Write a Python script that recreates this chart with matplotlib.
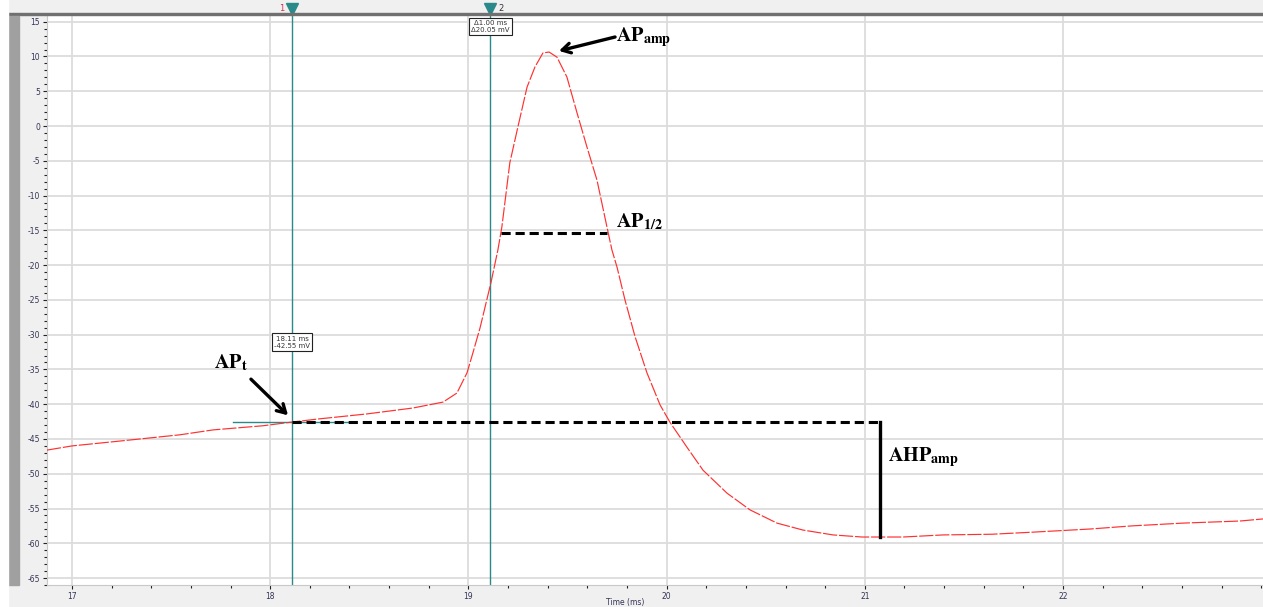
import matplotlib
matplotlib.use("Agg")
import matplotlib.pyplot as plt
from matplotlib.patches import Rectangle
from matplotlib.ticker import MultipleLocator

# membrane potential trace (ms, mV)
time_ms = [16.874, 17.000, 17.242, 17.545, 17.711, 17.964, 18.115, 18.251, 18.488,
           18.720, 18.872, 18.942, 18.993, 19.023, 19.059, 19.114, 19.149, 19.169,
           19.209, 19.250, 19.296, 19.336, 19.376, 19.407, 19.447, 19.497, 19.548,
           19.598, 19.649, 19.699, 19.724, 19.750, 19.790, 19.841, 19.901, 19.967,
           20.017, 20.103, 20.184, 20.305, 20.421, 20.557, 20.688, 20.840, 20.986,
           21.193, 21.395, 21.642, 21.849, 22.136, 22.348, 22.605, 22.893, 23.009]
voltage_mv = [-46.6, -46.0, -45.3, -44.4, -43.7, -43.1, -42.55, -42.1, -41.4,
              -40.55, -39.7, -38.4, -35.5, -32.6, -29.0, -22.5, -17.8, -14.5,
              -5.3, -0.1, 5.6, 8.5, 10.5, 10.64, 9.9, 7.05, 1.9,
              -3.0, -7.8, -14.5, -17.8, -20.3, -25.0, -30.3, -35.5, -40.1,
              -42.6, -46.2, -49.5, -52.8, -55.2, -57.1, -58.1, -58.8, -59.1,
              -59.1, -58.8, -58.7, -58.4, -57.95, -57.5, -57.1, -56.8, -56.5]

cursor1_t, cursor1_v = 18.11, -42.55
cursor2_t = 19.11
delta_t, delta_v = 1.00, 20.05
half_v, half_t0, half_t1 = -15.43, 19.165, 19.70
ahp_t, ahp_v = 21.077, -59.1

xticks = [17, 18, 19, 20, 21, 22]
yticks = list(range(15, -70, -5))

teal = '#2a8a8a'
red = '#ff3030'

plt.rcParams['mathtext.fontset'] = 'stix'
plt.rcParams['font.family'] = ['DejaVu Sans']
plt.rcParams['axes.unicode_minus'] = False

fig = plt.figure(figsize=(12.63, 6.07), dpi=100, facecolor='#f0f0f0')
W, H = 1263, 607
ax = fig.add_axes([47 / W, 1 - 585 / H, 1 - 47 / W, 569 / H])
ax.set_facecolor('white')
ax.set_xlim(16.874, 23.009)
ax.set_ylim(-66.0, 15.82)

# grid
ax.set_xticks(xticks)
ax.set_yticks(yticks)
ax.xaxis.set_minor_locator(MultipleLocator(0.2))
ax.yaxis.set_minor_locator(MultipleLocator(1))
ax.grid(True, which='major', color='#dcdcdc', linewidth=1.3)
ax.set_axisbelow(True)
ax.tick_params(which='major', direction='out', length=3, width=0.8, colors='#222222',
               labelsize=5.5, labelcolor='#333355', pad=2)
ax.tick_params(which='minor', direction='out', length=2, width=0.8, colors='#222222')
for s in ax.spines.values():
    s.set_color('#c8c8c8')
    s.set_linewidth(0.8)
ax.spines['top'].set_visible(False)
ax.spines['right'].set_visible(False)

# cursors
ax.axvline(cursor1_t, color=teal, lw=1.0, zorder=2)
ax.axvline(cursor2_t, color=teal, lw=1.0, zorder=2)
ax.plot([cursor1_t - 0.3, cursor1_t + 0.3], [cursor1_v, cursor1_v], color=teal, lw=1.0, zorder=2)

# trace
ax.plot(time_ms, voltage_mv, color=red, lw=0.85, dashes=[12, 1.6], zorder=3)

# measurement lines
ax.plot([cursor1_t, ahp_t], [cursor1_v, cursor1_v], color='black', lw=2.2,
        dashes=[3, 1.6], zorder=4)
ax.plot([half_t0, half_t1], [half_v, half_v], color='black', lw=2.2, dashes=[3, 1.6], zorder=4)
ax.plot([ahp_t, ahp_t], [cursor1_v, ahp_v], color='black', lw=2.4, zorder=4)

# labels
lab = dict(fontsize=14.5, color='black', va='baseline', ha='left')
ax.text(17.716, -34.8, r'$\mathbf{AP}_{\mathbf{t}}$', **lab)
ax.text(19.745, 12.2, r'$\mathbf{AP}_{\mathbf{amp}}$', **lab)
ax.text(19.745, -14.5, r'$\mathbf{AP}_{\mathbf{1/2}}$', **lab)
ax.text(21.117, -48.2, r'$\mathbf{AHP}_{\mathbf{amp}}$', **lab)

arrow = dict(arrowstyle='->,head_length=0.6,head_width=0.35', color='black', lw=2.4,
             shrinkA=0, shrinkB=0)
ax.annotate('', xy=(18.09, -41.6), xytext=(17.903, -36.4), arrowprops=arrow)
ax.annotate('', xy=(19.457, 10.8), xytext=(19.74, 12.8), arrowprops=arrow)

# cursor readouts
box = dict(boxstyle='square,pad=0.3', fc='white', ec='#222222', lw=0.8)
ax.text(cursor1_t, -31.06, f'{cursor1_t:.2f} ms\n{cursor1_v:.2f} mV', fontsize=5,
        ha='center', va='center', color='#333333', bbox=box, zorder=6,
        linespacing=1.2)
ax.text(cursor2_t, 0.981, f'\u0394{delta_t:.2f} ms\n\u0394{delta_v:.2f} mV', fontsize=5,
        ha='center', va='center', color='#333333', bbox=box, zorder=6,
        transform=ax.get_xaxis_transform(), clip_on=False, linespacing=1.2)

# cursor handles on top bar
tr = ax.get_xaxis_transform()
for ct, name, col in [(cursor1_t, '1', '#d03050'), (cursor2_t, '2', '#333333')]:
    ax.plot([ct], [1.013], marker='v', markersize=8, color=teal, transform=tr, clip_on=False,
            zorder=7)
    ax.text(ct + (-0.04 if name == '1' else 0.04), 1.013, name, transform=tr, fontsize=6,
            color=col, ha='right' if name == '1' else 'left', va='center', clip_on=False)

# frame decoration
fig.patches.append(Rectangle((8 / W, 1 - 15 / H), 1 - 8 / W, 2 / H, transform=fig.transFigure,
                             color='#707070', zorder=5))
fig.patches.append(Rectangle((8 / W, 1 - 585 / H), 11 / W, 569 / H, transform=fig.transFigure,
                             color='#a0a0a0', zorder=5))
fig.patches.append(Rectangle((0, 0), 8 / W, 1, transform=fig.transFigure, color='white', zorder=5))
fig.text(11 / W, 1 - 297 / H, 'mV', rotation=90, fontsize=4.5, color='#333333',
         ha='center', va='center')
fig.text(625 / W, 1 - 603 / H, 'Time (ms)', fontsize=5.5, color='#333355',
         ha='center', va='center')

fig.savefig('out.png', dpi=100, facecolor=fig.get_facecolor())
